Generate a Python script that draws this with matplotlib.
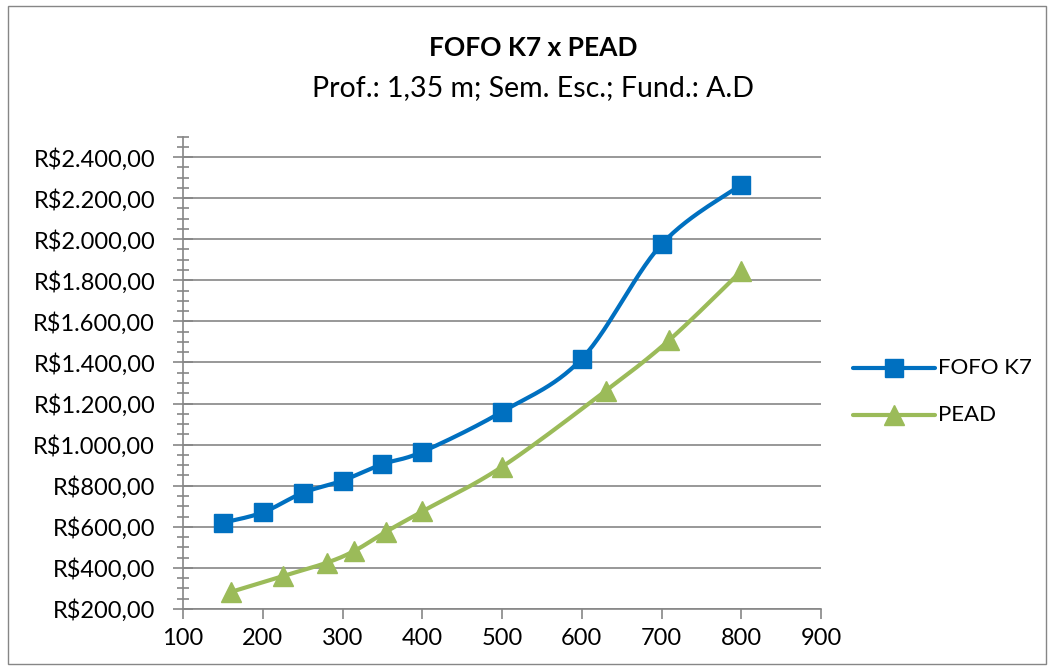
import numpy as np
import matplotlib
matplotlib.use("Agg")
import matplotlib.pyplot as plt
from matplotlib.patches import Rectangle
from matplotlib.ticker import MultipleLocator, FuncFormatter

plt.rcParams["font.family"] = ["Lato", "DejaVu Sans"]

# dados
fofo_x = [150, 200, 250, 300, 350, 400, 500, 600, 700, 800]
fofo_y = [620, 670, 765, 825, 905, 965, 1160, 1418, 1975, 2265]
pead_x = [160, 225, 280, 315, 355, 400, 500, 630, 710, 800]
pead_y = [283, 360, 425, 483, 577, 675, 892, 1262, 1510, 1845]

BLUE = "#0070C0"
GREEN = "#9BBB59"
GRID = "#868686"

XLIM = (100, 900)
YLIM = (200, 2500)


def smooth(xs, ys, w, h, n=30):
    # catmull-rom em coordenadas de tela (aprox. da suavizacao do Excel)
    px = (np.array(xs, float) - XLIM[0]) / (XLIM[1] - XLIM[0]) * w
    py = (np.array(ys, float) - YLIM[0]) / (YLIM[1] - YLIM[0]) * h
    pts = np.column_stack([px, py])
    pts = np.vstack([pts[0], pts, pts[-1]])
    out = []
    for i in range(1, len(pts) - 2):
        p0, p1, p2, p3 = pts[i - 1], pts[i], pts[i + 1], pts[i + 2]
        t = np.linspace(0, 1, n)[:, None]
        seg = 0.5 * ((2 * p1) + (-p0 + p2) * t + (2 * p0 - 5 * p1 + 4 * p2 - p3) * t ** 2
                     + (-p0 + 3 * p1 - 3 * p2 + p3) * t ** 3)
        out.append(seg)
    out = np.vstack(out)
    sx = out[:, 0] / w * (XLIM[1] - XLIM[0]) + XLIM[0]
    sy = out[:, 1] / h * (YLIM[1] - YLIM[0]) + YLIM[0]
    return sx, sy


fig = plt.figure(figsize=(10.54, 6.70), dpi=100)
fig.patches.append(Rectangle((8 / 1054, 6 / 670), 1038 / 1054, 658 / 670,
                             transform=fig.transFigure, fill=False,
                             edgecolor="#868686", linewidth=1))

ax = fig.add_axes([183 / 1054, 1 - 609 / 670, 638 / 1054, (609 - 136.5) / 670])
w, h = 638, 472.5

ax.set_xlim(*XLIM)
ax.set_ylim(*YLIM)

sx, sy = smooth(fofo_x, fofo_y, w, h)
ax.plot(sx, sy, color=BLUE, lw=3.0, solid_capstyle="round", zorder=3)
ax.plot(fofo_x, fofo_y, ls="none", marker="s", ms=13, color=BLUE, zorder=4)
sx, sy = smooth(pead_x, pead_y, w, h)
ax.plot(sx, sy, color=GREEN, lw=3.0, solid_capstyle="round", zorder=3)
ax.plot(pead_x, pead_y, ls="none", marker="^", ms=14, color=GREEN, zorder=4)

ax.xaxis.set_major_locator(MultipleLocator(100))
ax.yaxis.set_major_locator(MultipleLocator(200))
ax.yaxis.set_minor_locator(MultipleLocator(50))


def brl(v, pos):
    s = f"{v:,.2f}".replace(",", "X").replace(".", ",").replace("X", ".")
    return "R$" + s


ax.yaxis.set_major_formatter(FuncFormatter(brl))
ax.set_yticks(np.arange(200, 2401, 200))
ax.grid(axis="y", color=GRID, lw=1.2)
ax.set_axisbelow(True)
for s in ["top", "right"]:
    ax.spines[s].set_visible(False)
for s in ["left", "bottom"]:
    ax.spines[s].set_color(GRID)
    ax.spines[s].set_linewidth(1.2)
ax.tick_params(axis="both", which="both", color=GRID, width=1.2, labelsize=17)
ax.tick_params(axis="x", which="major", direction="out", length=7, pad=7)
ax.tick_params(axis="y", which="major", direction="inout", length=14, pad=13)
ax.tick_params(axis="y", which="minor", direction="inout", length=8)

fig.text(533 / 1054, 1 - 48 / 670, "FOFO K7 x PEAD", ha="center", va="center",
         fontsize=19, fontweight="bold")
fig.text(533 / 1054, 1 - 88 / 670, "Prof.: 1,35 m; Sem. Esc.; Fund.: A.D",
         ha="center", va="center", fontsize=20.5)

# legenda
lax = fig.add_axes([850 / 1054, 1 - 440 / 670, 200 / 1054, 100 / 670])
lax.set_xlim(0, 200)
lax.set_ylim(100, 0)
lax.axis("off")
for yy, col, mk, lab, ms in [(28, BLUE, "s", "FOFO K7", 13), (75, GREEN, "^", "PEAD", 14)]:
    lax.plot([3, 85], [yy, yy], color=col, lw=3.0, solid_capstyle="round")
    lax.plot([44], [yy], marker=mk, ms=ms, color=col)
    lax.text(88, yy, lab, va="center", ha="left", fontsize=16)

fig.savefig("out.png", dpi=100)
